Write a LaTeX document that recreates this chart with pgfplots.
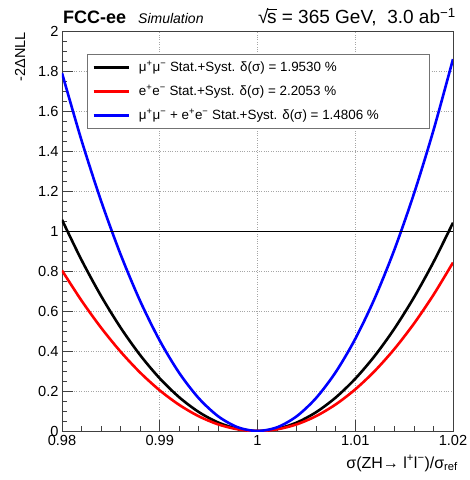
\documentclass[border=0pt]{standalone}
\usepackage{fontspec}
\setmainfont{Liberation Sans}
\usepackage{pgfplots}
\pgfplotsset{compat=1.18}
\begin{document}
\begin{tikzpicture}
\path[use as bounding box] (-62pt,-49pt) rectangle (408pt,431pt);
\begin{axis}[
  at={(0pt,0pt)}, anchor=south west,
  scale only axis, width=391pt, height=400pt,
  xmin=0.98, xmax=1.02, ymin=0, ymax=2,
  xtick={0.98,0.99,1,1.01,1.02},
  xticklabels={0.98,0.99,1,1.01,1.02},
  ytick={0,0.2,0.4,0.6,0.8,1,1.2,1.4,1.6,1.8,2},
  yticklabels={0,0.2,0.4,0.6,0.8,1,1.2,1.4,1.6,1.8,2},
  minor x tick num=4, minor y tick num=3,
  tick pos=left, tick align=inside,
  major tick length=11pt, minor tick length=5.5pt,
  grid=major, grid style={dotted, black!35, line width=0.6pt},
  axis line style={black!75, line width=0.8pt},
  every tick/.style={black!75, line width=0.7pt},
  ticklabel style={font=\fontsize{14.6}{17}\selectfont},
  xticklabel style={yshift=-1pt},
  legend style={at={(rel axis cs:0.0639,0.9425)}, anchor=north west,
    draw=black!55, line width=0.7pt, fill=white,
    inner xsep=5pt, inner ysep=1pt,
    nodes={inner sep=0pt, minimum height=24pt},
    font=\fontsize{13.4}{16}\selectfont,
    /tikz/every odd column/.style={column sep=9pt}},
  legend cell align=left,
  legend image code/.code={\draw[#1, line width=2.6pt] (0pt,0pt) -- (35pt,0pt);},
]
\addplot[black, line width=2.6pt, smooth] coordinates {
(0.980,1.05606) (0.982,0.85481) (0.984,0.67494) (0.986,0.51639) (0.988,0.37913)
(0.990,0.26310) (0.992,0.16827) (0.994,0.09458) (0.996,0.04201) (0.998,0.01050)
(1.000,0) (1.002,0.01048) (1.004,0.04189) (1.006,0.09418) (1.008,0.16733)
(1.010,0.26126) (1.012,0.37595) (1.014,0.51135) (1.016,0.66742) (1.018,0.84411)
(1.020,1.04138)};
\addlegendentry{\makebox[285pt][l]{μ\textsuperscript{+}μ\textsuperscript{−} Stat.+Syst. δ(σ) = 1.9530 \%}}
\addplot[red, line width=2.6pt, smooth] coordinates {
(0.980,0.80274) (0.982,0.65182) (0.984,0.51628) (0.986,0.39625) (0.988,0.29183)
(0.990,0.20315) (0.992,0.13034) (0.994,0.07349) (0.996,0.03274) (0.998,0.00820)
(1.000,0) (1.002,0.00824) (1.004,0.03306) (1.006,0.07455) (1.008,0.13286)
(1.010,0.20809) (1.012,0.30035) (1.014,0.40979) (1.016,0.53650) (1.018,0.68060)
(1.020,0.84222)};
\addlegendentry{\makebox[285pt][l]{e\textsuperscript{+}e\textsuperscript{−} Stat.+Syst. δ(σ) = 2.2053 \%}}
\addplot[blue, line width=2.6pt, smooth] coordinates {
(0.980,1.79001) (0.982,1.45272) (0.984,1.15005) (0.986,0.88220) (0.988,0.64939)
(0.990,0.45184) (0.992,0.28973) (0.994,0.16328) (0.996,0.07271) (0.998,0.01822)
(1.000,0) (1.002,0.01828) (1.004,0.07327) (1.006,0.16516) (1.008,0.29417)
(1.010,0.46050) (1.012,0.66437) (1.014,0.90598) (1.016,1.18555) (1.018,1.50326)
(1.020,1.85935)};
\addlegendentry{\makebox[285pt][l]{μ\textsuperscript{+}μ\textsuperscript{−} + e\textsuperscript{+}e\textsuperscript{−} Stat.+Syst. δ(σ) = 1.4806 \%}}
\addplot[black, line width=0.9pt, forget plot] coordinates {(0.98,1) (1.02,1)};
\end{axis}
\node[anchor=base west, inner sep=0pt, font=\fontsize{18}{20}\selectfont\bfseries] at (1pt,407pt) {FCC-ee};
\node[anchor=base west, inner sep=0pt, font=\fontsize{14}{16}\selectfont\itshape] at (76pt,407pt) {Simulation};
\node[anchor=base east, inner sep=0pt, font=\fontsize{19}{22}\selectfont] at (394pt,407pt) {√\kern-0.08em\rlap{\rule[0.74em]{0.5em}{0.06em}}s = 365 GeV,\ \ 3.0 ab\textsuperscript{−1}};
\node[rotate=90, anchor=east, inner sep=0pt, font=\fontsize{14.5}{17}\selectfont] at (-42pt,399pt) {-2ΔNLL};
\node[anchor=base east, inner sep=0pt, font=\fontsize{16}{19}\selectfont] at (396pt,-37pt) {σ(ZH→ l\textsuperscript{+}l\textsuperscript{−})/σ\textsubscript{ref}};
\end{tikzpicture}
\end{document}
